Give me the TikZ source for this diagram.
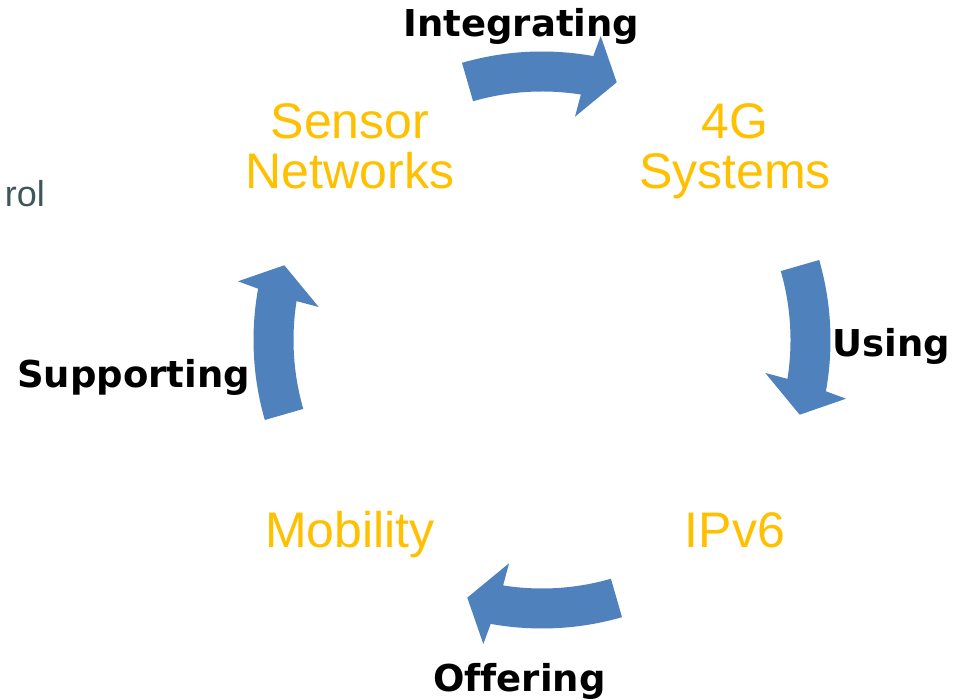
\documentclass[tikz,border=0pt]{standalone}
\usepackage{fontspec}
\setmainfont{Liberation Sans}
\newfontfamily\labelfont[Ligatures=NoCommon]{DejaVu Sans}
\definecolor{arrowblue}{HTML}{4F81BD}
\definecolor{gold}{HTML}{FFC000}
\definecolor{slate}{HTML}{3F575B}
\tikzset{
  topic/.style={text=gold, inner sep=0pt, align=center, font=\fontsize{50}{50}\selectfont},
  verb/.style={text=black, inner sep=0pt, anchor=base, font=\labelfont\bfseries\fontsize{37}{40}\selectfont},
  cyclearrow/.style={fill=arrowblue, draw=none}
}
\newcommand{\cyclearrowpath}[1]{%
  \begin{scope}[shift={(542,360)}, rotate=#1]
    \fill[cyclearrow] (106.1:288.5) arc[start angle=106.1, end angle=79.76, radius=288.5]
      -- (79.07:309.6) -- (73.83:268.3) -- (81.6:225.7) -- (81.0:248.5)
      arc[start angle=81.0, end angle=106.1, radius=248.5] -- cycle;
  \end{scope}}
\begin{document}
\begin{tikzpicture}[x=1pt,y=1pt]
  \useasboundingbox (0,0) rectangle (965,700);
  \fill[white] (0,0) rectangle (965,700);
  % arrows
  \cyclearrowpath{0}
  \cyclearrowpath{-90}
  \cyclearrowpath{180}
  \cyclearrowpath{90}
  % topics
  \node[topic, anchor=north] (sensor) at (350,597) {Sensor\\Networks};
  \node[topic, anchor=north] (fourg) at (735,597) {4G\\Systems};
  \node[topic, anchor=base] (mobility) at (350,152) {Mobility};
  \node[topic, anchor=base] (ipv6) at (735,152) {IPv6};
  % verbs
  \node[verb] (integrating) at (521.5,663) {Integrating};
  \node[verb] (using) at (891.5,343) {Using};
  \node[verb] (supporting) at (133.5,312) {Supporting};
  \node[verb] (offering) at (519.5,8) {Offering};
  % partial text
  \node[text=slate, inner sep=0pt, anchor=base east, font=\fontsize{36}{40}\selectfont] (rol) at (45,493.3) {rol};
\end{tikzpicture}
\end{document}
